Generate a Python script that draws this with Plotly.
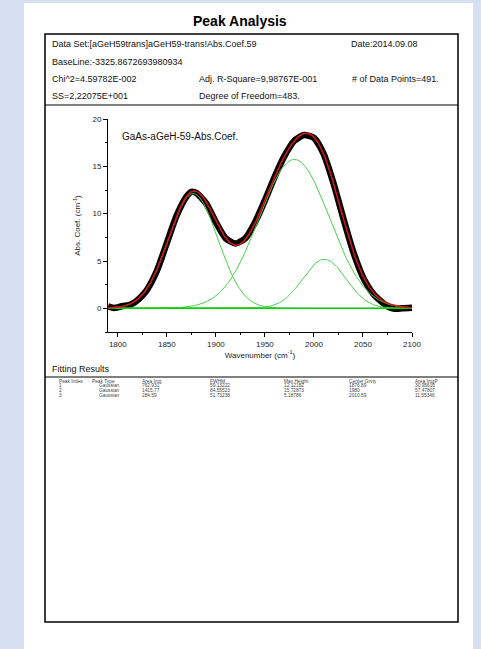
import numpy as np
import plotly.graph_objects as go

W, H = 481, 649

# ---- fit report values ----
peak_index = [1, 2, 3]
peak_type = ["Gaussian", "Gaussian", "Gaussian"]
area_intg = [762.93134, 1415.77385, 284.59]
fwhm = [59.13222, 84.55523, 51.73238]
max_height = [12.12182, 15.72873, 5.18786]
center = [1876.8927, 1980.0, 2010.58969]
area_pct = [30.95616, 57.47807, 11.55346]
baseline_y = 0.0

# ---- measured absorption spectrum ----
wn_data = [1790, 1795, 1800, 1805, 1810, 1815, 1820, 1825, 1830, 1840, 1850,
           1860, 1870, 1875, 1880, 1890, 1900, 1910, 1920, 1930, 1940, 1950,
           1960, 1970, 1980, 1990, 2000, 2010, 2020, 2030, 2040, 2050, 2060,
           2070, 2075, 2080, 2085, 2090, 2100]
abs_data = [0.2, 0.05, 0.1, 0.25, 0.3, 0.5, 0.85, 1.35, 2.0, 4.0, 6.9,
            9.8, 11.8, 12.3, 12.2, 11.1, 9.1, 7.4, 6.85, 7.4, 9.1, 11.4,
            13.9, 16.1, 17.7, 18.3, 18.0, 16.3, 13.2, 9.5, 6.0, 3.3, 1.6,
            0.6, 0.2, 0.0, -0.05, 0.0, 0.05]

x_range = [1790, 2100]
y_range = [-2.5, 20]
x_ticks = [1800, 1850, 1900, 1950, 2000, 2050, 2100]
y_ticks = [0, 5, 10, 15, 20]


def px(x):
    return x / W


def py(y):
    return 1 - y / H


FONT = "Liberation Sans, Arial, sans-serif"

# Gaussian components (Origin form: FWHM w, height h, centre xc)
xg = np.arange(x_range[0], x_range[1] + 0.5, 1.0)
k = 4 * np.log(2)
components = [h * np.exp(-k * (xg - c) ** 2 / w ** 2)
              for h, c, w in zip(max_height, center, fwhm)]
fit = baseline_y + np.sum(components, axis=0)

fig = go.Figure()
fig.add_trace(go.Scatter(x=wn_data, y=abs_data, mode="lines",
                         line=dict(color="black", width=6.5, shape="spline", smoothing=0.6),
                         hoverinfo="skip", showlegend=False))
for comp in components:
    fig.add_trace(go.Scatter(x=xg, y=baseline_y + comp, mode="lines",
                             line=dict(color="#4ccf4c", width=1),
                             showlegend=False))
fig.add_trace(go.Scatter(x=x_range, y=[baseline_y, baseline_y], mode="lines",
                         line=dict(color="#00d000", width=1.5), showlegend=False))
fig.add_trace(go.Scatter(x=xg, y=fit, mode="lines",
                         line=dict(color="#d01818", width=1.6), showlegend=False))

x_dom = [px(108), px(412)]
y_dom = [py(332), py(119)]

axis_common = dict(showline=True, linecolor="black", linewidth=1, showgrid=False,
                   zeroline=False, ticks="outside", ticklen=4, tickcolor="black",
                   automargin=False,
                   tickfont=dict(family=FONT, size=8, color="#222"))
frame_common = dict(showline=True, linecolor="black", linewidth=1, showgrid=False,
                    zeroline=False, ticks="inside", ticklen=3, tickcolor="black",
                    showticklabels=False, automargin=False)

fig.update_layout(
    width=W, height=H, autosize=False,
    margin=dict(l=0, r=0, t=0, b=0, pad=0),
    paper_bgcolor="#d7e0f1",
    plot_bgcolor="white",
    xaxis=dict(domain=x_dom, range=x_range, tickvals=x_ticks,
               minor=dict(ticks="outside", ticklen=2, dtick=25, tickcolor="black"),
               title=dict(text="Wavenumber (cm<sup>-1</sup>)", standoff=4,
                          font=dict(family=FONT, size=8, color="#222")),
               anchor="y", **axis_common),
    yaxis=dict(domain=y_dom, range=y_range, tickvals=y_ticks,
               minor=dict(ticks="outside", ticklen=2, dtick=2.5, tickcolor="black"),
               title=dict(text="Abs. Coef. (cm<sup>-1</sup>)", standoff=10,
                          font=dict(family=FONT, size=8, color="#222")),
               anchor="x", **axis_common),
    xaxis2=dict(domain=x_dom, range=x_range, overlaying="x", side="top", anchor="y2",
                tickvals=x_ticks, **frame_common),
    yaxis2=dict(domain=y_dom, range=y_range, overlaying="y", side="right", anchor="x2",
                tickvals=y_ticks, **frame_common),
)

# page, report frame and separators
shapes = [
    dict(type="rect", xref="paper", yref="paper", x0=px(24), x1=px(473),
         y0=py(660), y1=py(3), fillcolor="white", line=dict(width=0), layer="below"),
    dict(type="rect", xref="paper", yref="paper", x0=px(45), x1=px(458),
         y0=py(622), y1=py(34), line=dict(color="black", width=1.5),
         fillcolor="rgba(0,0,0,0)", layer="below"),
    dict(type="line", xref="paper", yref="paper", x0=px(45), x1=px(458),
         y0=py(105), y1=py(105), line=dict(color="black", width=1)),
    dict(type="line", xref="paper", yref="paper", x0=px(45), x1=px(458),
         y0=py(377), y1=py(377), line=dict(color="black", width=1)),
]
fig.update_layout(shapes=shapes)


def text(x, y, s, size=9, anchor="left", color="#111"):
    fig.add_annotation(x=px(x), y=py(y), xref="paper", yref="paper", text=s,
                       showarrow=False, xanchor=anchor, yanchor="middle",
                       font=dict(family=FONT, size=size, color=color))


text(240, 21, "<b>Peak Analysis</b>", size=14, anchor="center", color="black")

text(50, 44, "Data Set:[aGeH59trans]aGeH59-trans!Abs.Coef.59")
text(349, 44, "Date:2014.09.08")
text(50, 62, "BaseLine:-3325.8672693980934")
text(50, 79, "Chi^2=4.59782E-002")
text(197, 79, "Adj. R-Square=9,98767E-001")
text(350, 79, "# of Data Points=491.")
text(50, 96, "SS=2,22075E+001")
text(197, 96, "Degree of Freedom=483.")

text(120, 136, "GaAs-aGeH-59-Abs.Coef.", size=10)

text(50, 369, "Fitting Results", size=9)

# fitting results table
headers = ["Peak Index", "Peak Type", "Area Intg", "FWHM", "Max Height",
           "Center Grvty", "Area IntgP"]
head_x = [57, 90, 140, 208, 282, 347, 413]
for cx, h in zip(head_x, headers):
    text(cx, 381, h, size=4.8, color="#444")
row_y = [385.8, 390.6, 395.4]
cell_x = [57, 97, 140, 208, 282, 347, 413]
for i in range(3):
    cells = [str(peak_index[i]), peak_type[i],
             f"{area_intg[i]:g}", f"{fwhm[i]:.5f}",
             f"{max_height[i]:.5f}".replace(".", ","),
             f"{center[i]:g}",
             f"{area_pct[i]:.5f}".replace(".", ",")]
    for cx, s in zip(cell_x, cells):
        text(cx, row_y[i], s, size=4.8, color="#444")

fig.write_html("out.html")
